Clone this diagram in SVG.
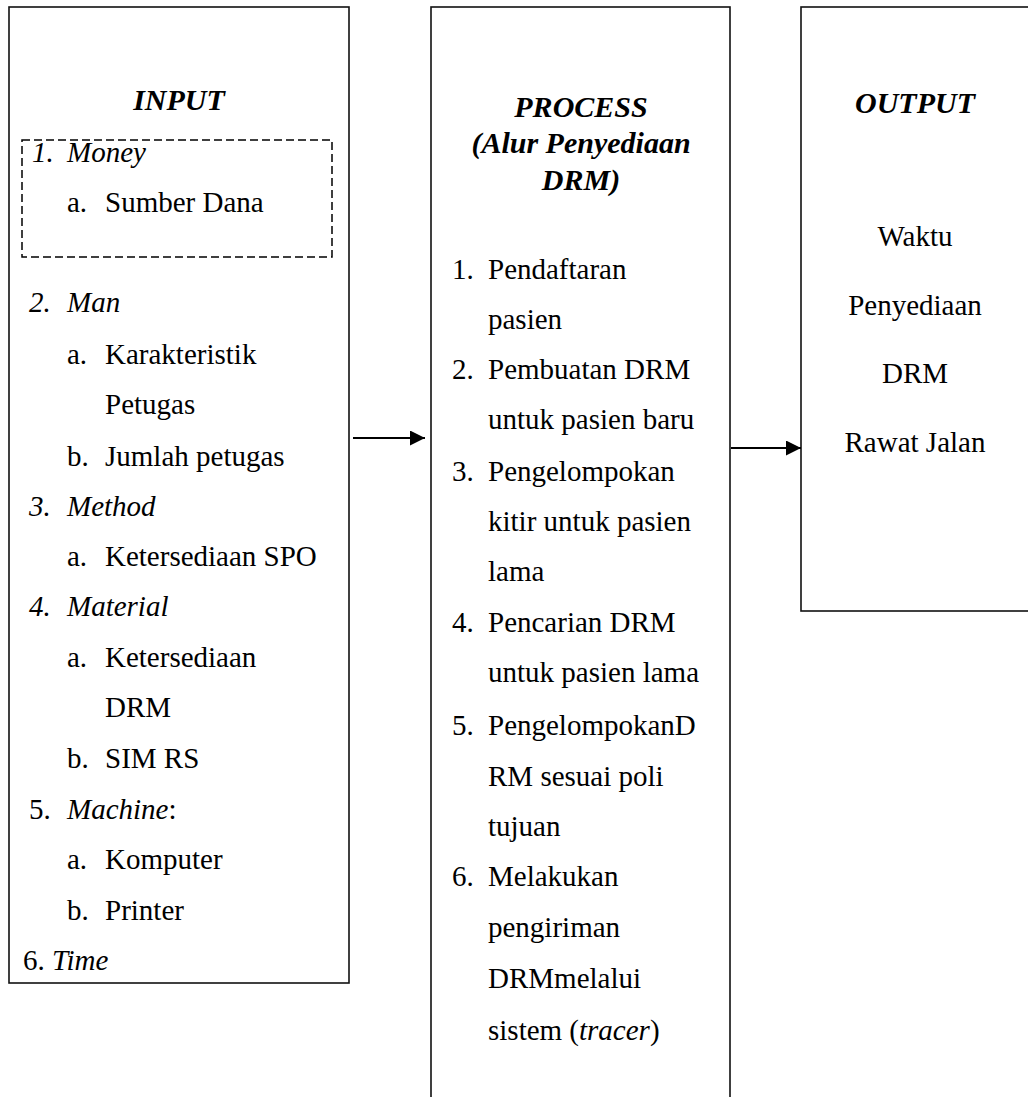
<svg xmlns="http://www.w3.org/2000/svg" width="1028" height="1097" viewBox="0 0 1028 1097">
<style>
.box{fill:none;stroke:#111;stroke-width:1.6}
.dash{fill:none;stroke:#000;stroke-width:1.5;stroke-dasharray:8 4}
.t{font-family:"Liberation Serif","Times New Roman",serif;font-size:29px;fill:#000}
.i{font-style:italic}
.h{font-family:"Liberation Serif","Times New Roman",serif;font-size:30px;font-weight:bold;font-style:italic;fill:#000}
.c{text-anchor:middle}
.ln{stroke:#000;stroke-width:2;fill:none}
</style>
<defs>
<marker id="ah" markerWidth="15" markerHeight="15" refX="15" refY="7.5" orient="auto" markerUnits="userSpaceOnUse">
<path d="M0,0 L15,7.5 L0,15 Z" fill="#000"/>
</marker>
</defs>
<rect width="1028" height="1097" fill="#fff"/>
<g id="input">
<rect class="box" x="9" y="7" width="340" height="976"/>
<rect class="dash" x="22" y="140" width="310" height="117"/>
<text class="h c" x="179" y="110">INPUT</text>
<text class="t i" x="32" y="162">1.</text><text class="t i" x="67" y="162">Money</text>
<text class="t" x="67" y="212">a.</text><text class="t" x="105" y="212">Sumber Dana</text>
<text class="t i" x="29" y="312">2.</text><text class="t i" x="67" y="312">Man</text>
<text class="t" x="67" y="364">a.</text><text class="t" x="105" y="364">Karakteristik</text>
<text class="t" x="105" y="414">Petugas</text>
<text class="t" x="67" y="466">b.</text><text class="t" x="105" y="466">Jumlah petugas</text>
<text class="t i" x="29" y="516">3.</text><text class="t i" x="67" y="516">Method</text>
<text class="t" x="67" y="566">a.</text><text class="t" x="105" y="566">Ketersediaan SPO</text>
<text class="t i" x="29" y="616">4.</text><text class="t i" x="67" y="616">Material</text>
<text class="t" x="67" y="667">a.</text><text class="t" x="105" y="667">Ketersediaan</text>
<text class="t" x="105" y="717">DRM</text>
<text class="t" x="67" y="768">b.</text><text class="t" x="105" y="768">SIM RS</text>
<text class="t" x="29" y="819">5.</text><text class="t" x="67" y="819"><tspan class="i">Machine</tspan>:</text>
<text class="t" x="67" y="869">a.</text><text class="t" x="105" y="869">Komputer</text>
<text class="t" x="67" y="920">b.</text><text class="t" x="105" y="920">Printer</text>
<text class="t" x="23" y="970">6. <tspan class="i">Time</tspan></text>
</g>
<g id="process">
<rect class="box" x="431" y="7" width="299" height="1100"/>
<text class="h c" x="581" y="117">PROCESS</text>
<text class="h c" x="581" y="153">(Alur Penyediaan</text>
<text class="h c" x="581" y="190">DRM)</text>
<text class="t" x="452" y="279">1.</text><text class="t" x="488" y="279">Pendaftaran</text>
<text class="t" x="488" y="329">pasien</text>
<text class="t" x="452" y="379">2.</text><text class="t" x="488" y="379">Pembuatan DRM</text>
<text class="t" x="488" y="429">untuk pasien baru</text>
<text class="t" x="452" y="481">3.</text><text class="t" x="488" y="481">Pengelompokan</text>
<text class="t" x="488" y="531">kitir untuk pasien</text>
<text class="t" x="488" y="581">lama</text>
<text class="t" x="452" y="632">4.</text><text class="t" x="488" y="632">Pencarian DRM</text>
<text class="t" x="488" y="682">untuk pasien lama</text>
<text class="t" x="452" y="735">5.</text><text class="t" x="488" y="735">PengelompokanD</text>
<text class="t" x="488" y="786">RM sesuai poli</text>
<text class="t" x="488" y="836">tujuan</text>
<text class="t" x="452" y="886">6.</text><text class="t" x="488" y="886">Melakukan</text>
<text class="t" x="488" y="937">pengiriman</text>
<text class="t" x="488" y="988">DRMmelalui</text>
<text class="t" x="488" y="1040">sistem (<tspan class="i">tracer</tspan>)</text>
</g>
<g id="output">
<rect class="box" x="801" y="7" width="240" height="604"/>
<text class="h c" x="915" y="113">OUTPUT</text>
<text class="t c" x="915" y="246">Waktu</text>
<text class="t c" x="915" y="315">Penyediaan</text>
<text class="t c" x="915" y="383">DRM</text>
<text class="t c" x="915" y="452">Rawat Jalan</text>
</g>
<g id="connectors">
<line class="ln" x1="353" y1="438" x2="425" y2="438" marker-end="url(#ah)"/>
<line class="ln" x1="731" y1="448" x2="801" y2="448" marker-end="url(#ah)"/>
</g>
</svg>
